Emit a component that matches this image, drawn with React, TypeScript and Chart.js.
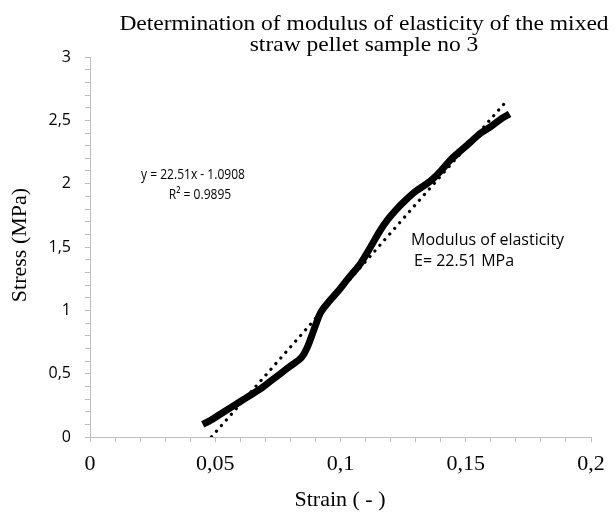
import React, { useEffect, useRef } from "react";
import { Chart, registerables } from "chart.js";

Chart.register(...registerables);

const strainValues = [
  0.045, 0.048, 0.052, 0.056, 0.06, 0.064, 0.068, 0.072, 0.076, 0.08, 0.0845,
  0.087, 0.09, 0.092, 0.095, 0.099, 0.103, 0.108, 0.112, 0.1158, 0.119, 0.122,
  0.126, 0.13, 0.1345, 0.137, 0.14, 0.144, 0.148, 0.152, 0.156, 0.16, 0.164, 0.1675,
];
const stressValues = [
  0.1, 0.13, 0.18, 0.23, 0.28, 0.33, 0.38, 0.44, 0.5, 0.56, 0.63,
  0.72, 0.88, 0.98, 1.06, 1.15, 1.25, 1.37, 1.5, 1.63, 1.72, 1.79,
  1.87, 1.94, 2.0, 2.04, 2.1, 2.19, 2.26, 2.33, 2.4, 2.45, 2.51, 2.55,
];
const trendStrain = [0.0485, 0.1665];
const trendStress = [0.001, 2.657];

const titleLines = [
  "Determination of modulus of elasticity of the mixed",
  "straw pellet sample no 3",
];
const equationLines = ["y = 22.51x - 1.0908", "R² = 0.9895"];
const modulusLines = ["Modulus of elasticity", "E= 22.51 MPa"];
const xTitle = "Strain ( - )";
const yTitle = "Stress (MPa)";

const fmt = (v: number) => String(parseFloat(v.toFixed(2))).replace(".", ",");

const drawStretched = (ctx: any, text: string, cx: number, cy: number, sx: number) => {
  ctx.save();
  ctx.translate(cx, cy);
  ctx.scale(sx, 1);
  ctx.fillText(text, 0, 0);
  ctx.restore();
};

const textPlugin = {
  id: "texts",
  afterDraw(chart: any) {
    const ctx = chart.ctx;
    ctx.save();
    ctx.fillStyle = "#000";
    ctx.textBaseline = "middle";
    ctx.textAlign = "center";
    ctx.font = '21px "Liberation Serif", serif';
    drawStretched(ctx, titleLines[0], 364, 24, 1.12);
    drawStretched(ctx, titleLines[1], 364, 45, 1.12);
    ctx.font = '22px "Liberation Serif", serif';
    ctx.fillText(xTitle, 340, 500);
    ctx.save();
    ctx.translate(20, 245);
    ctx.rotate(-Math.PI / 2);
    ctx.fillText(yTitle, 0, 0);
    ctx.restore();
    ctx.font = '14.5px "Open Sans", sans-serif';
    drawStretched(ctx, equationLines[0], 193, 175, 0.83);
    drawStretched(ctx, equationLines[1], 200, 195, 0.83);
    ctx.textAlign = "left";
    ctx.font = '16px "Open Sans", sans-serif';
    ctx.fillText(modulusLines[0], 411, 240);
    ctx.fillText(modulusLines[1], 414, 261);
    ctx.restore();
  },
};

export default function App() {
  const ref = useRef<HTMLCanvasElement>(null);
  useEffect(() => {
    if (!ref.current) return;
    const chart = new Chart(ref.current, {
      type: "line",
      data: {
        datasets: [
          {
            data: strainValues.map((x, i) => ({ x, y: stressValues[i] })),
            borderColor: "#000",
            borderWidth: 7,
            pointRadius: 0,
            tension: 0.3,
            borderCapStyle: "butt",
            fill: false,
          },
          {
            data: trendStrain.map((x, i) => ({ x, y: trendStress[i] })),
            borderColor: "#000",
            borderWidth: 3.2,
            borderDash: [0.1, 7.4],
            borderCapStyle: "round",
            pointRadius: 0,
            fill: false,
          },
        ],
      },
      options: {
        animation: false,
        responsive: true,
        maintainAspectRatio: false,
        layout: { padding: { top: 57, right: 25, left: 0, bottom: 0 } },
        plugins: {
          legend: { display: false },
          tooltip: { enabled: false },
          title: { display: false },
        },
        scales: {
          x: {
            type: "linear",
            min: 0,
            max: 0.2,
            afterFit: (s: any) => {
              s.height = 76;
            },
            ticks: {
              stepSize: 0.01,
              autoSkip: false,
              maxRotation: 0,
              padding: 9,
              color: "#000",
              font: { family: '"Liberation Serif", serif', size: 22 },
              callback: (v: any) => (Math.round(Number(v) * 100) % 5 === 0 ? fmt(Number(v)) : ""),
            },
            grid: { drawOnChartArea: false, drawTicks: true, tickLength: 5, color: "#bfbfbf" },
            border: { color: "#bfbfbf", width: 1 },
          },
          y: {
            type: "linear",
            min: 0,
            max: 3,
            afterFit: (s: any) => {
              s.width = 90;
            },
            ticks: {
              stepSize: 0.1,
              autoSkip: false,
              padding: 14,
              color: "#000",
              font: { family: '"Open Sans", sans-serif', size: 16 },
              callback: (v: any) => (Math.round(Number(v) * 10) % 5 === 0 ? fmt(Number(v)) : ""),
            },
            grid: { drawOnChartArea: false, drawTicks: true, tickLength: 5, color: "#bfbfbf" },
            border: { color: "#bfbfbf", width: 1 },
          },
        },
      },
      plugins: [textPlugin],
    } as any);
    return () => chart.destroy();
  }, []);
  return (
    <div style={{ position: "fixed", left: 0, top: 0, width: 616, height: 513, background: "#fff" }}>
      <canvas ref={ref} />
    </div>
  );
}
